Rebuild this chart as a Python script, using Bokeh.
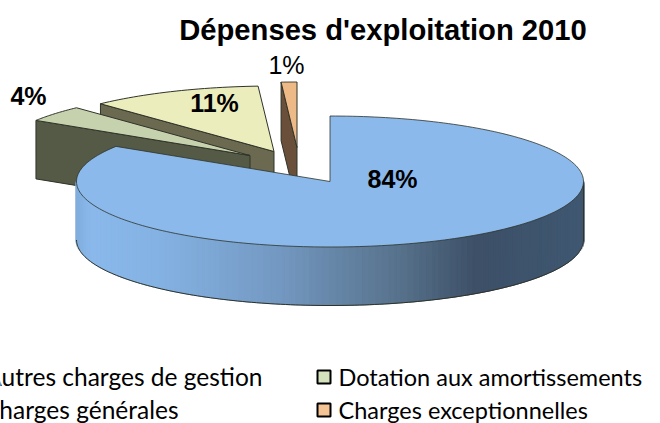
import numpy as np
from bokeh.plotting import figure
from bokeh.embed import file_html
from bokeh.resources import INLINE
from bokeh.core.properties import value

TITLE = "Dépenses d'exploitation 2010"
CATEGORIES = ["Autres charges de gestion", "Dotation aux amortissements",
              "Charges générales", "Charges exceptionnelles"]
VALUES = [84, 4, 11, 1]
LABELS = ["84%", "4%", "11%", "1%"]

TOP_COLORS = ["#8BB9EC", "#C6D2AE", "#ECEDBD", "#EDB986"]
WALL_COLORS = ["#8BB9EC", "#555A47", "#6B6A51", "#6A4F3A"]
LEGEND_COLORS = ["#8BB9EC", "#D5E3BC", "#F0F0C4", "#F5C495"]
OFFSETS = [(0, 0), (-80, -26), (-56, -30), (-33, -34)]
LABEL_POS = [(392, 178, "bold"), (28, 95, "bold"), (214, 102, "bold"), (286, 64.5, "normal")]

CX, CY, RX, RY, DEPTH = 329.5, 181.0, 253.5, 65.5, 58.5
LINE = "#2F3328"

p = figure(width=660, height=423, x_range=(0, 660), y_range=(423, 0),
           output_backend="svg", toolbar_location=None, min_border=0,
           outline_line_color=None, background_fill_color="white")
p.axis.visible = False
p.grid.visible = False


def ellipse_xy(deg, ox=0.0, oy=0.0):
    a = np.radians(deg)
    return CX + ox + RX * np.sin(a), CY + oy - RY * np.cos(a)


edges = np.concatenate([[0], np.cumsum(VALUES)]) * 3.6
wedges = [(edges[i], edges[i + 1]) for i in range(len(VALUES))]

# Exploded slices, back to front: each has a radial wall and a top face
for i in [3, 2, 1]:
    a0, a1 = wedges[i]
    ox, oy = OFFSETS[i]
    ax, ay = CX + ox, CY + oy
    ex, ey = ellipse_xy(a0, ox, oy)
    p.patch([ex, ax, ax, ex], [ey, ay, ay + DEPTH, ey + DEPTH],
            fill_color=WALL_COLORS[i], line_color=LINE, line_width=1)
    th = np.linspace(a0, a1, 30)
    tx, ty = ellipse_xy(th, ox, oy)
    p.patch(np.r_[ax, tx], np.r_[ay, ty],
            fill_color=TOP_COLORS[i], line_color=LINE, line_width=1)

# Main slice: shaded outer wall
STOPS_X = [0.00, 0.03, 0.17, 0.40, 0.65, 0.79, 1.00]
STOPS_R = [0x80, 0x8B, 0x84, 0x74, 0x56, 0x3D, 0x40]
STOPS_G = [0xAD, 0xB9, 0xB2, 0x99, 0x70, 0x50, 0x58]
STOPS_B = [0xDC, 0xEC, 0xE3, 0xC2, 0x89, 0x68, 0x72]
steps = np.linspace(270, 90, 121)
xs, ys, cols = [], [], []
for s0, s1 in zip(steps[:-1], steps[1:]):
    x0, y0 = ellipse_xy(s0)
    x1, y1 = ellipse_xy(s1)
    f = ((x0 + x1) / 2 - (CX - RX)) / (2 * RX)
    r = int(np.interp(f, STOPS_X, STOPS_R))
    g = int(np.interp(f, STOPS_X, STOPS_G))
    b = int(np.interp(f, STOPS_X, STOPS_B))
    xs.append([x0, x1, x1, x0])
    ys.append([y0, y1, y1 + DEPTH, y0 + DEPTH])
    cols.append(f"#{r:02x}{g:02x}{b:02x}")
p.patches(xs, ys, fill_color=cols, line_color=cols, line_width=2)
bx, by = ellipse_xy(np.linspace(270, 90, 161))
# white mask keeps the overlap strokes inside the wall's lower edge
p.varea(bx, by + DEPTH + 0.5, by + DEPTH + 3, fill_color="white")
p.line(bx, by + DEPTH, line_color=LINE, line_width=1)
p.line([bx[-1], bx[-1]], [by[-1], by[-1] + DEPTH], line_color=LINE, line_width=1)

# Main slice: top face
a0, a1 = wedges[0]
tx, ty = ellipse_xy(np.linspace(a0, a1, 240))
p.patch(np.r_[CX, tx], np.r_[CY, ty], fill_color=TOP_COLORS[0],
        line_color=LINE, line_width=0.8)

# Title and data labels
p.text([382.5], [29], text=[TITLE], text_font=value("Liberation Sans"), text_font_style="bold",
       text_font_size="29.2px", text_align="center", text_baseline="middle", text_color="black")
for lab, (lx, ly, st) in zip(LABELS, LABEL_POS):
    p.text([lx], [ly], text=[lab], text_font=value("Liberation Sans"), text_font_style=st,
           text_font_size="25px", text_align="center", text_baseline="middle", text_color="black")

# Legend
LEG_ROWS = [376, 409]
p.text([262], [LEG_ROWS[0]], text=[CATEGORIES[0]], text_font=value("Lato"), text_font_size="24.5px",
       text_align="right", text_baseline="middle", text_color="black")
p.text([178], [LEG_ROWS[1]], text=[CATEGORIES[2]], text_font=value("Lato"), text_font_size="24.5px",
       text_align="right", text_baseline="middle", text_color="black")
for row, idx in zip(LEG_ROWS, [1, 3]):
    p.rect([323.5], [row + 0.5], width=13, height=13, fill_color=LEGEND_COLORS[idx],
           line_color="black", line_width=2)
    p.text([338], [row], text=[CATEGORIES[idx]], text_font=value("Lato"), text_font_size="23.5px",
           text_align="left", text_baseline="middle", text_color="black")

open("out.html", "w").write(file_html(p, INLINE))
